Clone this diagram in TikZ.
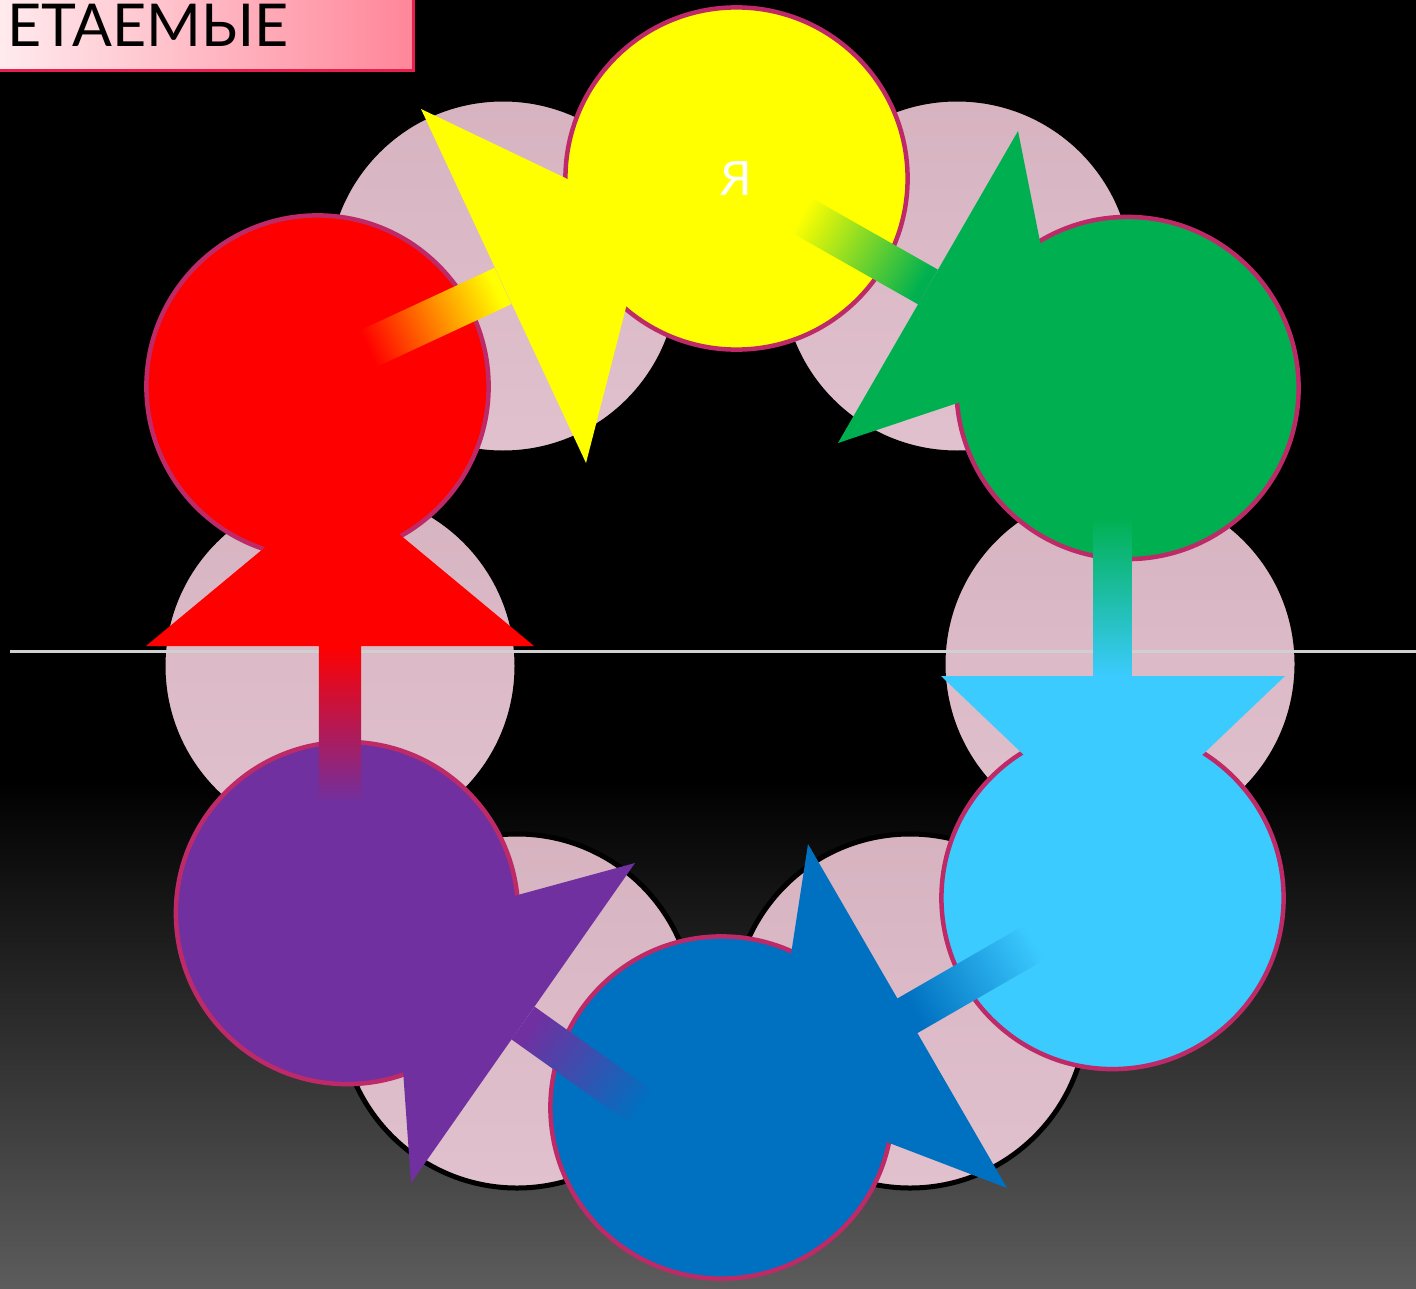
\documentclass[tikz,border=0pt]{standalone}
\usepackage{fontspec}
\setmainfont{Lato}
\usetikzlibrary{calc}
\definecolor{cRed}{HTML}{FF0000}
\definecolor{cYellow}{HTML}{FFFF00}
\definecolor{cGreen}{HTML}{00B050}
\definecolor{cCyan}{HTML}{3CCBFF}
\definecolor{cBlue}{HTML}{0070C0}
\definecolor{cPurple}{HTML}{7030A0}
\definecolor{ring}{HTML}{BE2A68}
\definecolor{pinkTop}{HTML}{D7B3C0}
\definecolor{pinkBot}{HTML}{E1C1CE}
\definecolor{bgGray}{HTML}{5C5C5C}
\definecolor{titleL}{HTML}{FFECEF}
\definecolor{titleR}{HTML}{FF8699}
\definecolor{titleEdge}{HTML}{E8204E}
\definecolor{lineGray}{HTML}{D0D0D0}
\tikzset{
  bigdisc/.style={circle,draw=ring,line width=0.045cm,minimum size=3.42cm,inner sep=0pt},
  backdisc/.style={draw=black,line width=0.05cm,top color=pinkTop,bottom color=pinkBot},
  shaftbar/.style={shade,shading=axis}
}

\begin{document}
\begin{tikzpicture}[x=0.01cm,y=-0.01cm]
  \useasboundingbox (0,0) rectangle (1416,1288);
  % background
  \fill[black] (0,0) rectangle (1416,1288);
  \shade[top color=black,bottom color=bgGray] (0,780) rectangle (1416,1288);
  % title strip
  \shade[left color=titleL,right color=titleR,draw=titleEdge,line width=0.03cm] (-5,-5) rectangle (413,71);
  \node[anchor=base west,inner sep=0pt,font=\fontsize{16.8}{20}\selectfont] (title) at (7,47) {ЕТАЕМЫЕ};
  % pink discs between the steps
  \foreach \px/\py in {503/276,957/276,1120/664,910/1011,517/1011,340/666}
    \path[backdisc] (\px,\py) circle (177);
  \draw[lineGray,line width=0.03cm] (10,651) -- (1416,651);
  % the six steps
  \node[bigdisc,fill=cYellow,text=white,font=\fontsize{13.5}{16}\selectfont] (yel) at (736.5,178.5) {Я};
  \node[bigdisc,fill=cGreen] (grn) at (1127.5,388) {};
  \node[bigdisc,fill=cCyan] (cyn) at (1112.5,898) {};
  \node[bigdisc,fill=cBlue] (blu) at (721.5,1107.5) {};
  \node[bigdisc,fill=cPurple] (pur) at (347,913) {};
  \node[bigdisc,fill=cRed] (red) at (317.5,386.5) {};
  % red -> yellow
  \coordinate (ry0) at (361,352); \coordinate (ry1) at (503,286);
  \coordinate (ryL) at (421,109); \coordinate (ryR) at (586,463); \coordinate (ryT) at (649,218);
  \shade[shaftbar,bottom color=cRed,top color=cYellow,shading angle=-65]
    ($(ry0)!2mm!90:(ry1)$) -- ($(ry0)!2mm!-90:(ry1)$) -- ($(ry1)!2mm!90:(ry0)$) -- ($(ry1)!2mm!-90:(ry0)$) -- cycle;
  \fill[cYellow] (ryL) -- (ryT) -- (ryR) -- cycle;
  % yellow -> green
  \coordinate (yg0) at (794,211); \coordinate (yg1) at (928,287);
  \coordinate (ygL) at (1018,131); \coordinate (ygR) at (838,443); \coordinate (ygT) at (1065,367);
  \shade[shaftbar,bottom color=cYellow,top color=cGreen,shading angle=-119.5]
    ($(yg0)!2mm!90:(yg1)$) -- ($(yg0)!2mm!-90:(yg1)$) -- ($(yg1)!2mm!90:(yg0)$) -- ($(yg1)!2mm!-90:(yg0)$) -- cycle;
  \fill[cGreen] (ygL) -- (ygT) -- (ygR) -- cycle;
  % green -> cyan
  \coordinate (gc0) at (1112.5,518); \coordinate (gc1) at (1112.5,677);
  \coordinate (gcL) at (941,676); \coordinate (gcR) at (1285,676); \coordinate (gcT) at (1113,840);
  \shade[shaftbar,bottom color=cGreen,top color=cCyan,shading angle=180]
    ($(gc0)!1.9mm!90:(gc1)$) -- ($(gc0)!1.9mm!-90:(gc1)$) -- ($(gc1)!1.9mm!90:(gc0)$) -- ($(gc1)!1.9mm!-90:(gc0)$) -- cycle;
  \fill[cCyan] (gcL) -- (gcT) -- (gcR) -- cycle;
  % cyan -> blue
  \coordinate (cb0) at (1042,938); \coordinate (cb1) at (907,1016);
  \coordinate (cbL) at (808,844); \coordinate (cbR) at (1007,1188); \coordinate (cbT) at (769,1097);
  \shade[shaftbar,bottom color=cCyan,top color=cBlue,shading angle=120]
    ($(cb0)!2mm!90:(cb1)$) -- ($(cb0)!2mm!-90:(cb1)$) -- ($(cb1)!2mm!90:(cb0)$) -- ($(cb1)!2mm!-90:(cb0)$) -- cycle;
  \fill[cBlue] (cbL) -- (cbT) -- (cbR) -- cycle;
  % blue -> purple
  \coordinate (bp0) at (648,1112); \coordinate (bp1) at (523,1023);
  \coordinate (bpL) at (635,863); \coordinate (bpR) at (411,1183); \coordinate (bpT) at (393,929);
  \shade[shaftbar,bottom color=cBlue,top color=cPurple,shading angle=54.6]
    ($(bp0)!2mm!90:(bp1)$) -- ($(bp0)!2mm!-90:(bp1)$) -- ($(bp1)!2mm!90:(bp0)$) -- ($(bp1)!2mm!-90:(bp0)$) -- cycle;
  \fill[cPurple] (bpL) -- (bpT) -- (bpR) -- cycle;
  % purple -> red
  \coordinate (pr0) at (340,803); \coordinate (pr1) at (340,645);
  \coordinate (prL) at (146,646); \coordinate (prR) at (534,646); \coordinate (prT) at (340,485);
  \shade[shaftbar,bottom color=cPurple,top color=cRed,shading angle=0]
    ($(pr0)!2.1mm!90:(pr1)$) -- ($(pr0)!2.1mm!-90:(pr1)$) -- ($(pr1)!2.1mm!90:(pr0)$) -- ($(pr1)!2.1mm!-90:(pr0)$) -- cycle;
  \fill[cRed] (prL) -- (prT) -- (prR) -- cycle;
\end{tikzpicture}
\end{document}
